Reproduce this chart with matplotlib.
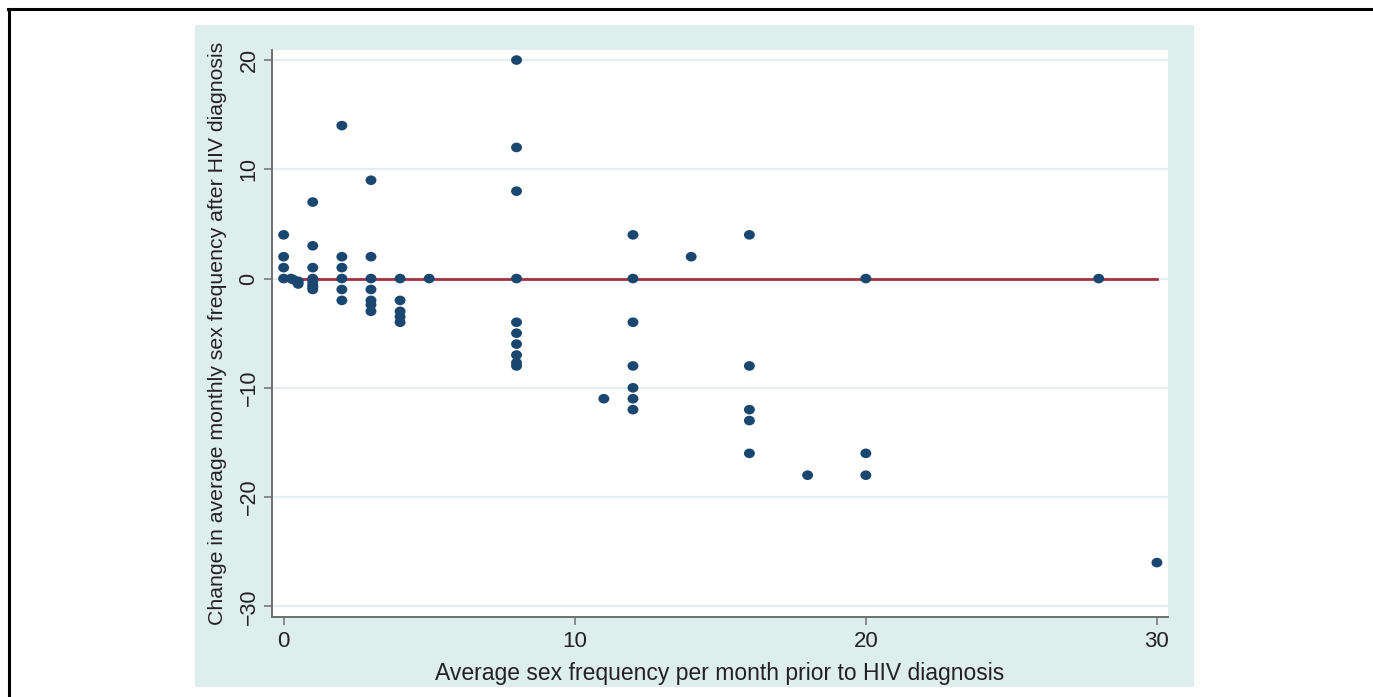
import matplotlib
matplotlib.use("Agg")
import matplotlib.pyplot as plt
from matplotlib.lines import Line2D
from matplotlib.path import Path

plt.rcParams['font.family'] = ['Liberation Sans', 'DejaVu Sans']

# Average sex frequency per month prior to HIV diagnosis (x)
freq_before = [
    0, 0, 0, 0,
    0.25, 0.33, 0.5, 0.5,
    1, 1, 1, 1, 1, 1, 1, 1,
    2, 2, 2, 2, 2, 2,
    3, 3, 3, 3, 3, 3, 3,
    4, 4, 4, 4, 4,
    5,
    8, 8, 8, 8, 8, 8, 8, 8, 8, 8,
    11,
    12, 12, 12, 12, 12, 12, 12,
    14,
    16, 16, 16, 16, 16,
    18,
    20, 20, 20,
    28,
    30,
]
# Change in average monthly sex frequency after HIV diagnosis (y)
freq_change = [
    4, 2, 1, 0,
    0, -0.1, -0.25, -0.5,
    7, 3, 1, 0, -0.3, -0.6, -0.8, -1,
    14, 2, 1, 0, -1, -2,
    9, 2, 0, -1, -2, -2.4, -3,
    0, -2, -3, -3.5, -4,
    0,
    20, 12, 8, 0, -4, -5, -6, -7, -7.7, -8,
    -11,
    4, 0, -4, -8, -10, -11, -12,
    2,
    4, -8, -12, -13, -16,
    -18,
    0, -16, -18,
    0,
    -26,
]
ref_x = [0, 30]
ref_y = [0, 0]

xticks = [0, 10, 20, 30]
yticks = [-30, -20, -10, 0, 10, 20]

W, H = 1373, 697
fig = plt.figure(figsize=(W / 100, H / 100), dpi=100)
fig.patch.set_facecolor('white')

# outer black frame lines (top and left)
fig.add_artist(Line2D([8 / W, 1.0], [1 - 9 / H, 1 - 9 / H], color='black', lw=2.2,
                      transform=fig.transFigure))
fig.add_artist(Line2D([9 / W, 9 / W], [0, 1 - 9 / H], color='black', lw=2.2,
                      transform=fig.transFigure))

# light bluish graph region
panel = plt.Rectangle((195 / W, 1 - 687 / H), (1194 - 195) / W, (687 - 25) / H,
                      transform=fig.transFigure, facecolor='#ddeeed', edgecolor='none',
                      zorder=0)
fig.add_artist(panel)

ax = fig.add_axes([272 / W, 1 - 617 / H, (1168 - 272) / W, (617 - 50) / H])
ax.set_facecolor('white')
ax.set_xlim(-0.4, 30.38)
ax.set_ylim(-30.98, 20.92)

for yv in yticks:
    ax.axhline(yv, color='#e2eff0', lw=1.6, zorder=1)

# slightly wide elliptical dot, as in the reference
circ = Path.unit_circle()
ellipse = Path(circ.vertices * [1.0, 0.88], circ.codes)

ax.plot(ref_x, ref_y, color='#a2323f', lw=2.0, zorder=3)
ax.scatter(freq_before, freq_change, s=62, marker=ellipse, color='#1a476f',
           edgecolors='none', zorder=4)

ax.set_xticks(xticks)
ax.set_yticks(yticks)
ax.set_xticklabels([str(t) for t in xticks])
ax.set_yticklabels(['\u221230', '\u221220', '\u221210', '0', '10', '20'],
                   rotation=90, va='center')

for side in ['top', 'right']:
    ax.spines[side].set_visible(False)
for side in ['left', 'bottom']:
    ax.spines[side].set_color('#6f6f6f')
    ax.spines[side].set_linewidth(1.4)

ax.tick_params(axis='both', direction='out', length=6, width=1.1, color='#6f6f6f',
               labelcolor='#222222', pad=4)
ax.tick_params(axis='x', labelsize=16)
ax.tick_params(axis='y', labelsize=15.5, pad=3)

ax.set_xlabel('Average sex frequency per month prior to HIV diagnosis', fontsize=16.5,
              color='#222222', labelpad=7)
ax.set_ylabel('Change in average monthly sex frequency after HIV diagnosis', fontsize=15.3,
              color='#222222', labelpad=8)

fig.savefig('out.png', dpi=100)
